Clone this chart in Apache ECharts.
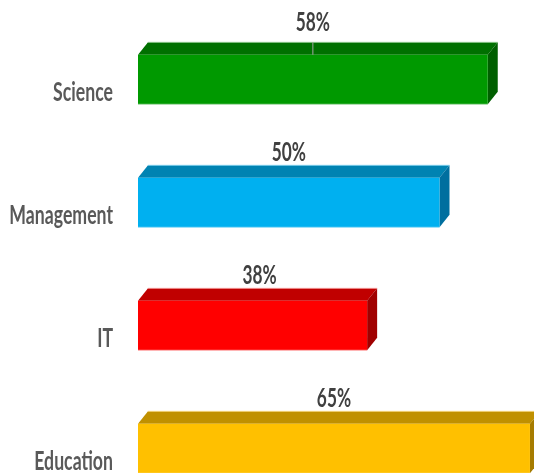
<!DOCTYPE html>
<html><head><meta charset="utf-8">
<style>html,body{margin:0;padding:0;background:#fff}#c{width:534px;height:473px}</style>
<script src="https://cdn.jsdelivr.net/npm/echarts@6/dist/echarts.min.js"></script>
</head><body><div id="c"></div>
<script>
const categories = ['Science', 'Management', 'IT', 'Education'];
const percentages = [58, 50, 38, 65];
const frontColors = ['#009900', '#00B0F0', '#FF0000', '#FFC000'];
const topColors = ['#007000', '#0083B2', '#C00000', '#C09000'];
const sideColors = ['#005F00', '#006F9F', '#A00000', '#A67C00'];
const edgeColors = ['#A8D8A8', '#8FDCF8', '#FFB0B0', '#FFE090'];

const DX = 10, DY = 12.5, BAR_H = 49.5;
const FONT = 'Lato, "Open Sans", sans-serif';
const LABEL_NUDGE_X = {2: 7};
const chart = echarts.init(document.getElementById('c'), null, {renderer: 'canvas'});
chart.setOption({
  animation: false,
  backgroundColor: '#fff',
  grid: {left: 138, top: 18, width: 422.1, height: 492, outerBoundsMode: 'none', containLabel: false},
  xAxis: {type: 'value', min: 0, max: 70, show: false},
  yAxis: {
    type: 'category', inverse: true, data: categories,
    axisLine: {show: false}, axisTick: {show: false},
    axisLabel: {show: false}
  },
  series: [{
    type: 'custom',
    clip: false,
    encode: {x: 1, y: 0},
    data: percentages.map((v, i) => [i, v]),
    renderItem(params, api) {
      const i = api.value(0), v = api.value(1);
      const end = api.coord([v, i]), start = api.coord([0, i]);
      const x0 = start[0], x1 = end[0], top = end[1] - BAR_H / 2, bot = end[1] + BAR_H / 2;
      const poly = (points, fill) => ({
        type: 'polygon', shape: {points},
        style: {fill, lineWidth: 0}
      });
      const children = [
        poly([[x0, top], [x0 + DX, top - DY], [x1 + DX, top - DY], [x1, top]], topColors[i]),
        poly([[x1, top], [x1 + DX, top - DY], [x1 + DX, bot - DY], [x1, bot]], sideColors[i]),
        poly([[x0, top], [x1, top], [x1, bot], [x0, bot]], frontColors[i]),
        {type: 'line', shape: {x1: x0, y1: bot, x2: x1, y2: bot}, style: {stroke: edgeColors[i], lineWidth: 0.8}},
        {type: 'line', shape: {x1: x0 + DX, y1: top - DY, x2: x1 + DX, y2: top - DY}, style: {stroke: edgeColors[i], lineWidth: 0.8}}
      ];
      const mid = (x0 + x1) / 2;
      const lifted = i === 0;
      if (lifted) {
        children.push({type: 'line', shape: {x1: mid, y1: top - DY, x2: mid, y2: top},
          style: {stroke: '#A6A6A6', lineWidth: 1}});
      }
      children.push({
        type: 'text', x: mid + (LABEL_NUDGE_X[i] || 0), y: top - DY - (lifted ? 19.5 : 12.5), scaleX: 0.64,
        style: {
          x: 0, y: 0, text: v + '%', align: 'center', verticalAlign: 'middle',
          fill: '#404040', fontSize: 27, fontWeight: 'bold', fontFamily: FONT
        }
      });
      children.push({
        type: 'text', x: x0 - 25, y: end[1] + 13, scaleX: 0.68,
        style: {
          x: 0, y: 0, text: categories[i], align: 'right', verticalAlign: 'middle',
          fill: '#595959', fontSize: 26, fontWeight: 'bold', fontFamily: FONT
        }
      });
      return {type: 'group', children};
    }
  }]
});
</script></body></html>
